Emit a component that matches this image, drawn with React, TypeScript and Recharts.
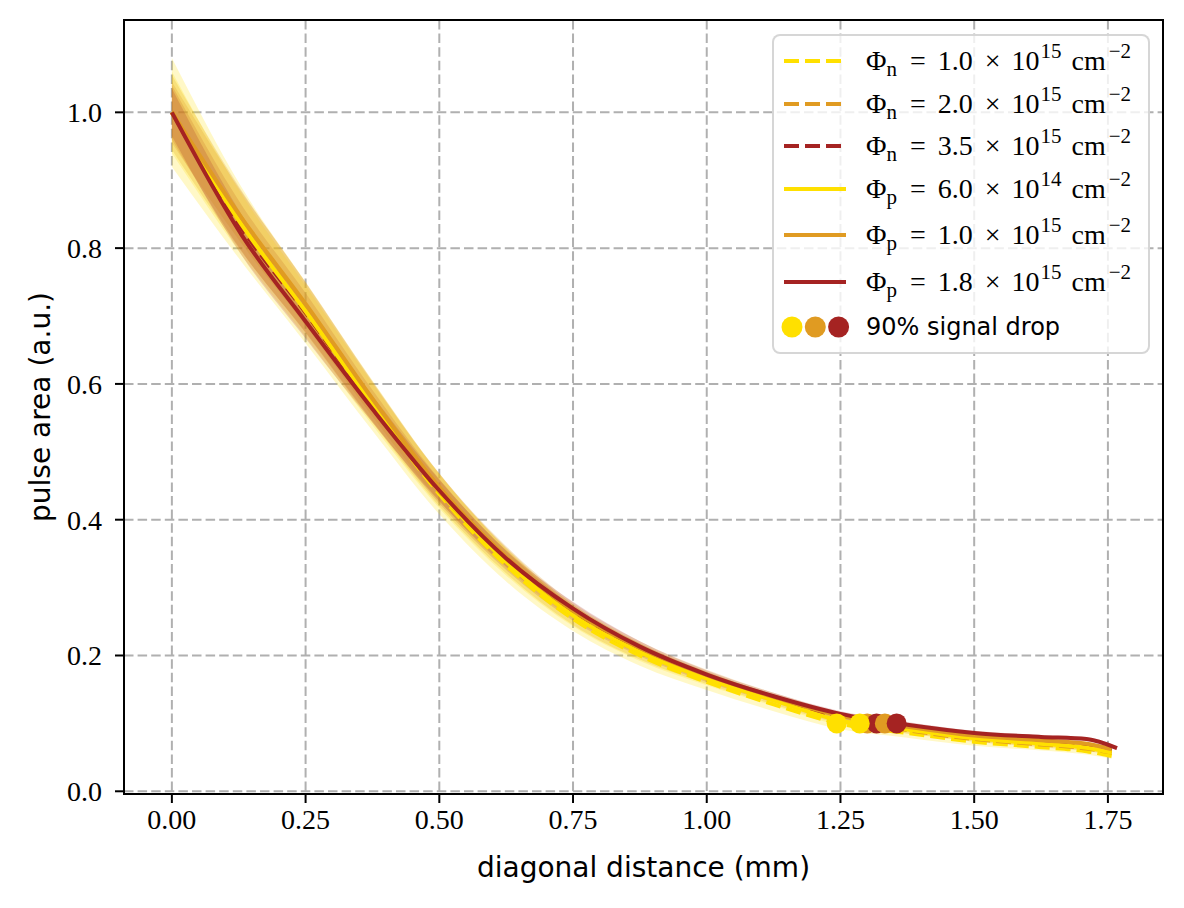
import React from 'react'
import { ComposedChart, Line, Area, Scatter, XAxis, YAxis, CartesianGrid, Cell } from 'recharts'

const YELLOW = '#ffe000'
const ORANGE = '#e09b22'
const RED = '#a52322'

// sampled distances (mm)
const xs = [0, 0.13, 0.25, 0.375, 0.5, 0.625, 0.75, 0.875, 1.0, 1.125, 1.25, 1.375, 1.5, 1.625, 1.71, 1.757, 1.767]

const n10 = [1.0, 0.835, 0.705, 0.568, 0.438, 0.333, 0.254, 0.2, 0.161, 0.128, 0.0995, 0.086, 0.073, 0.065, 0.059, 0.052, null]
const n20 = [1.0, 0.84, 0.712, 0.573, 0.444, 0.34, 0.26, 0.206, 0.167, 0.135, 0.106, 0.09, 0.077, 0.069, 0.063, 0.057, null]
const n35 = [1.0, 0.83, 0.705, 0.568, 0.442, 0.34, 0.262, 0.208, 0.168, 0.137, 0.109, 0.093, 0.08, 0.072, 0.067, 0.06, null]
const p06 = [1.0, 0.835, 0.707, 0.57, 0.442, 0.338, 0.259, 0.205, 0.166, 0.134, 0.104, 0.091, 0.078, 0.07, 0.064, 0.057, null]
const p10 = [1.0, 0.845, 0.718, 0.578, 0.448, 0.345, 0.266, 0.211, 0.171, 0.139, 0.111, 0.095, 0.082, 0.075, 0.07, 0.062, null]
const p18 = [1.0, 0.82, 0.692, 0.563, 0.443, 0.343, 0.269, 0.213, 0.172, 0.14, 0.114, 0.098, 0.086, 0.08, 0.077, null, 0.0635]

// uncertainty half-widths
const n10Err = [0.08, 0.055, 0.045, 0.037, 0.03, 0.024, 0.018, 0.015, 0.012, 0.01, 0.008, 0.007, 0.006, 0.005, 0.005, 0.004, null]
const n20Err = [0.055, 0.045, 0.037, 0.03, 0.024, 0.019, 0.015, 0.012, 0.009, 0.007, 0.006, 0.005, 0.004, 0.004, 0.004, 0.003, null]
const n35Err = [0.04, 0.034, 0.029, 0.023, 0.018, 0.014, 0.011, 0.009, 0.007, 0.006, 0.005, 0.004, 0.003, 0.003, 0.003, 0.003, null]
const p06Err = [0.06, 0.045, 0.038, 0.031, 0.025, 0.02, 0.016, 0.013, 0.01, 0.008, 0.007, 0.006, 0.005, 0.004, 0.004, 0.004, null]
const p10Err = [0.045, 0.038, 0.032, 0.026, 0.02, 0.016, 0.012, 0.01, 0.008, 0.006, 0.005, 0.004, 0.004, 0.003, 0.003, 0.003, null]
const p18Err = [0.035, 0.03, 0.025, 0.02, 0.016, 0.012, 0.01, 0.008, 0.006, 0.005, 0.004, 0.004, 0.003, 0.003, 0.003, null, 0.003]

// 90% signal drop positions (mm), same order as series
const dropX = [1.243, 1.3, 1.3175, 1.286, 1.333, 1.355]
const dropLevel = 0.1

const xTicks = [0, 0.25, 0.5, 0.75, 1.0, 1.25, 1.5, 1.75]
const yTicks = [0, 0.2, 0.4, 0.6, 0.8, 1.0]

const series = [
  { key: 'n10', sym: 'n', coef: '1.0', exp: '15', color: YELLOW, dashed: true, values: n10, err: n10Err, band: 0.22 },
  { key: 'n20', sym: 'n', coef: '2.0', exp: '15', color: ORANGE, dashed: true, values: n20, err: n20Err, band: 0.25 },
  { key: 'n35', sym: 'n', coef: '3.5', exp: '15', color: RED, dashed: true, values: n35, err: n35Err, band: 0.2 },
  { key: 'p06', sym: 'p', coef: '6.0', exp: '14', color: YELLOW, dashed: false, values: p06, err: p06Err, band: 0.22 },
  { key: 'p10', sym: 'p', coef: '1.0', exp: '15', color: ORANGE, dashed: false, values: p10, err: p10Err, band: 0.25 },
  { key: 'p18', sym: 'p', coef: '1.8', exp: '15', color: RED, dashed: false, values: p18, err: p18Err, band: 0.2 },
]

const rows = xs.map((x, i) => {
  const row: any = { x }
  series.forEach(s => {
    const v = s.values[i]
    const e = s.err[i]
    if (v != null && e != null) {
      row[s.key] = v
      row[s.key + 'Band'] = [v - e, v + e]
    }
  })
  return row
})

const drops = series.map((s, i) => ({ x: dropX[i], y: dropLevel, color: s.color }))

const SERIF = '"Liberation Serif", "DejaVu Serif", serif'
const SANS = '"DejaVu Sans", sans-serif'
const DASH = '15 6'

const legendRowY = [59, 101.5, 144, 187, 233, 280]

function MathLabel({ sym, coef, exp }: { sym: string; coef: string; exp: string }) {
  const small = { fontSize: '0.75em', position: 'relative' as const, lineHeight: 0 }
  return (
    <span>
      Φ<span style={{ ...small, top: '0.3em' }}>{sym}</span>
      <span style={{ margin: '0 12px 0 13px' }}>=</span>{coef}
      <span style={{ margin: '0 11px 0 12px' }}>×</span>10
      <span style={{ ...small, top: '-0.55em', marginLeft: 1 }}>{exp}</span>
      <span style={{ marginLeft: 10 }}>cm</span>
      <span style={{ ...small, top: '-0.55em', marginLeft: 3 }}>−2</span>
    </span>
  )
}

function LegendBox() {
  return (
    <div
      style={{
        position: 'absolute', left: 772, top: 34, width: 374, height: 316,
        border: '2.5px solid rgba(210,210,210,0.9)', borderRadius: 8,
        background: 'rgba(255,255,255,0.8)',
      }}
    >
      {series.map((s, i) => (
        <div key={s.key} style={{ position: 'absolute', left: 0, top: legendRowY[i] - 34 - 17, height: 34, width: 372 }}>
          <svg width={70} height={34} style={{ position: 'absolute', left: 8, top: 0 }}>
            <line x1={2} x2={64} y1={17} y2={17} stroke={s.color} strokeWidth={4}
              strokeDasharray={s.dashed ? DASH : undefined} />
          </svg>
          <div style={{ position: 'absolute', left: 92, top: 0, lineHeight: '34px', fontFamily: SERIF, fontSize: 28, whiteSpace: 'nowrap' }}>
            <MathLabel sym={s.sym} coef={s.coef} exp={s.exp} />
          </div>
        </div>
      ))}
      <div style={{ position: 'absolute', left: 0, top: 325 - 34 - 17, height: 34, width: 372 }}>
        <svg width={80} height={34} style={{ position: 'absolute', left: 0, top: 0 }}>
          {[YELLOW, ORANGE, RED].map((c, i) => (
            <circle key={c} cx={18 + i * 23.3} cy={17} r={10.5} fill={c} />
          ))}
        </svg>
        <div style={{ position: 'absolute', left: 92, top: 0, lineHeight: '34px', fontFamily: SANS, fontSize: 24, whiteSpace: 'nowrap' }}>
          90% signal drop
        </div>
      </div>
    </div>
  )
}

export default function App() {
  const tickStyle = { fontFamily: SERIF, fontSize: 28, fill: '#000' }
  return (
    <div style={{ position: 'absolute', left: 0, top: 0, width: 1184, height: 908, background: '#fff' }}>
      <ComposedChart width={1184} height={908} data={rows} margin={{ top: 20, right: 21, left: 0, bottom: 0 }}>
        <CartesianGrid stroke="#b0b0b0" strokeWidth={2} strokeDasharray="9.5 4.1" />
        <XAxis
          dataKey="x" type="number" domain={[-0.0895, 1.853]} ticks={xTicks} allowDataOverflow
          tickFormatter={(v: number) => v.toFixed(2)} tick={tickStyle} height={114}
          tickSize={9} tickMargin={6} axisLine={{ stroke: '#000', strokeWidth: 2 }}
          tickLine={{ stroke: '#000', strokeWidth: 2 }}
          label={{ value: 'diagonal distance (mm)', position: 'insideBottom', offset: 31, style: { fontFamily: SANS, fontSize: 28, fill: '#000' } }}
        />
        <YAxis
          type="number" domain={[-0.004, 1.136]} ticks={yTicks} allowDataOverflow
          tickFormatter={(v: number) => v.toFixed(1)} tick={tickStyle} width={124}
          tickSize={9} tickMargin={13} axisLine={{ stroke: '#000', strokeWidth: 2 }}
          tickLine={{ stroke: '#000', strokeWidth: 2 }}
          label={{ value: 'pulse area (a.u.)', angle: -90, position: 'insideLeft', offset: 40, style: { fontFamily: SANS, fontSize: 28, fill: '#000', textAnchor: 'middle' } }}
        />
        {series.map(s => (
          <Area key={s.key + 'Band'} dataKey={s.key + 'Band'} type="monotoneX" stroke="none" fill={s.color}
            fillOpacity={s.band} connectNulls isAnimationActive={false} />
        ))}
        {series.map(s => (
          <Line key={s.key} dataKey={s.key} type="monotoneX" stroke={s.color} strokeWidth={4}
            strokeDasharray={s.dashed ? DASH : undefined} dot={false} activeDot={false}
            connectNulls isAnimationActive={false} />
        ))}
        <Scatter data={drops} dataKey="y" isAnimationActive={false}
          shape={(p: any) => <circle cx={p.cx} cy={p.cy} r={10} fill={p.payload.color} />}>
          {drops.map((d, i) => <Cell key={i} fill={d.color} />)}
        </Scatter>
      </ComposedChart>
      {/* axes frame (top/right spines) */}
      <div style={{ position: 'absolute', left: 123, top: 19, width: 1041, height: 776, border: '2px solid #000', boxSizing: 'border-box', pointerEvents: 'none' }} />
      <LegendBox />
    </div>
  )
}
